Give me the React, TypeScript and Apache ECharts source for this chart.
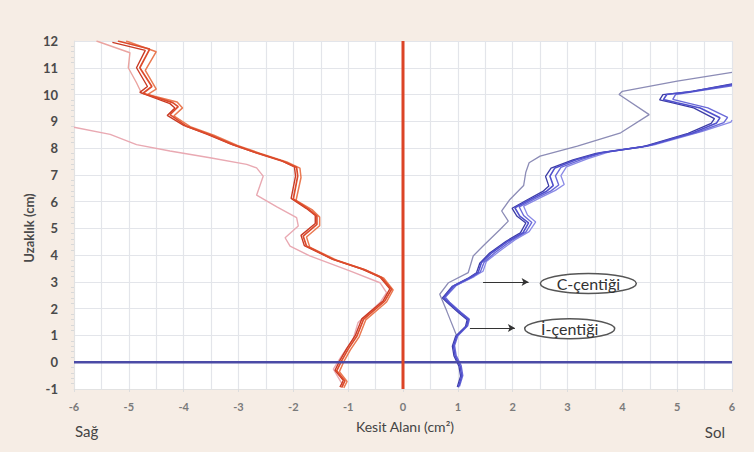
import React, { useEffect, useRef } from "react";
import * as echarts from "echarts";

// ---- axis ranges / tick labels ----
const xTicks = [-6, -5, -4, -3, -2, -1, 0, 1, 2, 3, 4, 5, 6];
const yTicks = [-1, 0, 1, 2, 3, 4, 5, 6, 7, 8, 9, 10, 11, 12];

// ---- right side (Sağ) red traces: [x, y] ----
const redA = [
  [-5.2, 12], [-4.62, 11.7], [-4.8, 11.0], [-4.58, 10.3], [-4.74, 10.05], [-4.2, 9.7], [-4.1, 9.55],
  [-4.25, 9.25], [-3.95, 8.82], [-3.52, 8.5], [-3.1, 8.13], [-2.67, 7.82], [-2.18, 7.5], [-1.94, 7.28],
  [-1.92, 6.95], [-2.0, 6.1], [-1.72, 5.72], [-1.57, 5.46], [-1.57, 5.15], [-1.82, 4.71], [-1.76, 4.34],
  [-1.27, 3.84], [-0.72, 3.47], [-0.39, 3.16], [-0.21, 2.72], [-0.33, 2.29], [-0.72, 1.6], [-0.84, 0.98],
  [-1.0, 0.49], [-1.12, 0.05], [-1.21, -0.32], [-1.06, -0.7], [-1.12, -0.95],
];
const redB = [
  [-5.05, 12], [-4.5, 11.6], [-4.7, 10.9], [-4.5, 10.2], [-4.66, 10.0], [-4.12, 9.72], [-4.02, 9.5],
  [-4.18, 9.2], [-3.88, 8.8], [-3.45, 8.48], [-3.02, 8.1], [-2.6, 7.8], [-2.12, 7.48], [-1.88, 7.25],
  [-1.86, 6.9], [-1.95, 6.05], [-1.66, 5.7], [-1.52, 5.42], [-1.52, 5.1], [-1.76, 4.68], [-1.7, 4.3],
  [-1.22, 3.82], [-0.68, 3.45], [-0.35, 3.14], [-0.18, 2.7], [-0.3, 2.25], [-0.68, 1.58], [-0.8, 0.95],
  [-0.96, 0.46], [-1.08, 0.02], [-1.16, -0.35], [-1.02, -0.72], [-1.08, -0.96],
];
const redC = [
  [-5.3, 11.95], [-4.7, 11.65], [-4.86, 11.0], [-4.66, 10.3], [-4.8, 10.08], [-4.25, 9.66], [-4.16, 9.5],
  [-4.3, 9.22], [-4.0, 8.85], [-3.58, 8.52], [-3.15, 8.16], [-2.72, 7.85], [-2.22, 7.53], [-1.98, 7.3],
  [-1.96, 6.95], [-2.04, 6.12], [-1.76, 5.74], [-1.6, 5.48], [-1.6, 5.18], [-1.86, 4.74], [-1.8, 4.36],
  [-1.3, 3.86], [-0.76, 3.49], [-0.42, 3.18], [-0.24, 2.74], [-0.36, 2.3], [-0.75, 1.62], [-0.87, 1.0],
  [-1.03, 0.5], [-1.15, 0.07], [-1.24, -0.3], [-1.09, -0.68], [-1.15, -0.93],
];
const redPaleTop = [
  [-5.59, 12], [-4.98, 11.56], [-5.01, 11.0], [-4.86, 10.44], [-4.77, 10.06], [-4.2, 9.7],
];
const redPale = [
  [-6.0, 8.78], [-5.34, 8.51], [-4.86, 8.13], [-4.25, 7.89], [-3.52, 7.64], [-2.85, 7.39], [-2.67, 7.26],
  [-2.55, 6.95], [-2.67, 6.24], [-2.3, 5.8], [-1.94, 5.4], [-1.91, 5.09], [-2.15, 4.65], [-2.06, 4.34],
  [-1.7, 3.97], [-0.97, 3.41], [-0.42, 2.97], [-0.3, 2.6], [-0.42, 2.23], [-0.82, 1.48], [-0.91, 0.86],
  [-1.12, 0.24], [-1.27, -0.26], [-1.09, -0.88],
];

// ---- left side (Sol) blue traces: [x, y] ----
const blueA = [
  [1.01, -0.94], [1.07, -0.51], [1.04, -0.14], [0.95, 0.24], [0.92, 0.61], [0.98, 0.98], [1.16, 1.35],
  [1.19, 1.6], [1.04, 1.85], [0.83, 2.23], [0.74, 2.41], [0.92, 2.85], [1.22, 3.16], [1.37, 3.35],
  [1.43, 3.72], [1.62, 4.09], [1.92, 4.53], [2.19, 4.84], [2.29, 5.21], [2.13, 5.46], [2.04, 5.77],
  [2.32, 6.08], [2.62, 6.39], [2.74, 6.6], [2.68, 6.95], [2.77, 7.26], [3.17, 7.57], [3.59, 7.82],
  [4.44, 8.07], [5.29, 8.57], [5.72, 8.94], [5.78, 9.13], [5.42, 9.5], [5.0, 9.69], [4.75, 9.81],
  [4.81, 10.0], [5.29, 10.12], [6.0, 10.37],
];
const blueB = [
  [1.03, -0.9], [1.09, -0.5], [1.06, -0.12], [0.97, 0.25], [0.94, 0.62], [1.0, 0.99], [1.18, 1.36],
  [1.21, 1.6], [1.06, 1.86], [0.85, 2.24], [0.77, 2.43], [0.96, 2.86], [1.26, 3.18], [1.41, 3.37],
  [1.48, 3.74], [1.68, 4.1], [1.98, 4.55], [2.24, 4.86], [2.35, 5.22], [2.2, 5.48], [2.12, 5.8],
  [2.4, 6.1], [2.7, 6.4], [2.84, 6.62], [2.78, 6.96], [2.88, 7.28], [3.26, 7.58], [3.66, 7.84],
  [4.5, 8.1], [5.38, 8.6], [5.85, 8.95], [5.92, 9.15], [5.56, 9.5], [5.2, 9.68], [4.92, 9.82],
  [4.97, 10.0], [5.4, 10.14], [6.0, 10.33],
];
const blueC = [
  [0.99, -0.92], [1.05, -0.52], [1.02, -0.15], [0.93, 0.23], [0.9, 0.6], [0.96, 0.97], [1.14, 1.34],
  [1.17, 1.59], [1.02, 1.84], [0.81, 2.22], [0.72, 2.4], [0.9, 2.84], [1.2, 3.15], [1.34, 3.34],
  [1.4, 3.7], [1.58, 4.08], [1.88, 4.52], [2.14, 4.83], [2.24, 5.2], [2.08, 5.45], [1.99, 5.75],
  [2.26, 6.06], [2.55, 6.38], [2.66, 6.58], [2.6, 6.94], [2.7, 7.25], [3.1, 7.56], [3.52, 7.8],
  [4.38, 8.05], [5.2, 8.55], [5.62, 8.92], [5.68, 9.1], [5.3, 9.5], [4.9, 9.7], [4.68, 9.8],
  [4.74, 10.0], [5.22, 10.1], [6.0, 10.4],
];
const blueD = [
  [1.16, 1.35], [1.2, 1.62], [1.05, 1.87], [0.84, 2.25], [0.76, 2.44], [0.98, 2.88], [1.3, 3.2],
  [1.46, 3.4], [1.52, 3.76], [1.74, 4.12], [2.04, 4.57], [2.3, 4.88], [2.42, 5.24], [2.27, 5.5],
  [2.2, 5.83], [2.48, 6.12], [2.78, 6.42], [2.94, 6.64], [2.88, 6.97], [2.98, 7.3], [3.36, 7.6],
  [3.76, 7.86], [4.58, 8.12], [5.46, 8.62], [5.98, 8.97], [6.0, 9.05],
];
const blueOuter = [
  [0.98, 0.98], [0.8, 1.9], [0.67, 2.54], [0.83, 2.97], [1.19, 3.35], [1.28, 3.97], [1.46, 4.34],
  [1.77, 4.96], [1.92, 5.27], [1.8, 5.65], [1.95, 6.08], [2.2, 6.6], [2.24, 7.1], [2.3, 7.45],
  [2.5, 7.7], [3.18, 8.07], [3.97, 8.57], [4.49, 9.25], [3.94, 10.0], [4.0, 10.12], [5.0, 10.5],
  [6.0, 10.83],
];

// ---- reference axes lines ----
const zeroHorizontal = [[-6, 0], [6, 0]];
const zeroVertical = [[0, -1], [0, 12]];

// ---- notch annotations ----
const notchLabels = ["C-çentiği", "İ-çentiği"];
const notchArrowFrom = [[1.46, 3.0], [1.22, 1.28]];
const notchArrowTo = [[2.29, 3.0], [2.04, 1.28]];
const notchLabelAt = [[3.38, 2.94], [3.04, 1.25]];

const FONT = "Lato, 'Open Sans', sans-serif";

export default function App() {
  const ref = useRef<HTMLDivElement>(null);
  useEffect(() => {
    if (!ref.current) return;
    const chart = echarts.init(ref.current, null, { renderer: "svg" });
    const line = (data: number[][], color: string, width: number, z = 3) => ({
      type: "line",
      data,
      showSymbol: false,
      symbol: "none",
      smooth: false,
      z,
      lineStyle: { color, width },
      silent: true,
    });
    chart.setOption({
      animation: false,
      backgroundColor: "#f6ede5",
      grid: {
        left: 74,
        right: 22,
        top: 41,
        bottom: 63,
        show: true,
        backgroundColor: "#ffffff",
        borderWidth: 0,
      },
      xAxis: {
        type: "value",
        min: -6,
        max: 6,
        interval: 1,
        axisLine: { show: true, onZero: false, lineStyle: { color: "#e2e2e2" } },
        axisTick: { show: true, length: 3, lineStyle: { color: "#dddddd" } },
        axisLabel: {
          margin: 12,
          color: "#7a7a7a",
          fontFamily: FONT,
          fontWeight: "bold",
          fontSize: 11,
          formatter: (v: number) => (xTicks.includes(v) ? String(v) : ""),
        },
        splitLine: { show: true, lineStyle: { color: "#e3e5ea", width: 1.2 } },
        minorTick: { show: false, splitNumber: 2 },
        minorSplitLine: { show: true, lineStyle: { color: "#e3e5ea", width: 1.2 } },
      },
      yAxis: {
        type: "value",
        min: -1,
        max: 12,
        interval: 1,
        axisLine: { show: true, onZero: false, lineStyle: { color: "#e2e2e2" } },
        axisTick: { show: false },
        minorTick: { show: true, splitNumber: 5, length: 3, lineStyle: { color: "#d8d8d8" } },
        axisLabel: {
          margin: 16,
          color: "#4a4a4a",
          fontFamily: FONT,
          fontWeight: "bold",
          fontSize: 13,
          formatter: (v: number) => (yTicks.includes(v) ? String(v) : ""),
        },
        splitLine: { show: true, lineStyle: { color: "#e3e5ea", width: 1.2 } },
      },
      series: [
        line(redPale, "#e9a9b2", 1.4),
        line(redPaleTop, "#eba4a0", 1.4),
        line(redB, "#ea7a52", 1.5),
        line(redC, "#c93b25", 1.4),
        line(redA, "#dc4b2c", 1.7),
        line(blueOuter, "#8c8cb6", 1.3),
        line(blueD, "#8a8ae6", 1.3),
        line(blueB, "#6a6ad8", 1.4),
        line(blueC, "#3c3ca6", 1.3),
        line(blueA, "#5050cc", 1.6),
        {
          ...line(zeroHorizontal, "#4b4ba6", 2.4, 5),
          markLine: {
            silent: true,
            symbol: ["none", "arrow"],
            symbolSize: [6, 7],
            label: { show: false },
            lineStyle: { color: "#333333", width: 1, type: "solid" },
            data: notchArrowFrom.map((p, i) => [{ coord: p }, { coord: notchArrowTo[i] }]),
          },
        },
        line(zeroVertical, "#dc4426", 3, 6),
      ],
    });

    const ellipses: any[] = [];
    const sizes = [
      [48, 10],
      [45, 10],
    ];
    notchLabelAt.forEach((p, i) => {
      const [cx, cy] = chart.convertToPixel({ gridIndex: 0 }, p) as number[];
      ellipses.push({
        type: "ellipse",
        shape: { cx, cy, rx: sizes[i][0], ry: sizes[i][1] },
        style: { fill: "#ffffff", stroke: "#555555", lineWidth: 1.5 },
        z: 10,
      });
      ellipses.push({
        type: "text",
        x: cx,
        y: cy,
        style: {
          text: notchLabels[i],
          fill: "#333333",
          font: `16px ${FONT}`,
          textAlign: "center",
          textVerticalAlign: "middle",
        },
        z: 11,
      });
    });

    chart.setOption({
      graphic: [
        ...ellipses,
        {
          type: "text",
          x: 29,
          y: 228,
          rotation: Math.PI / 2,
          style: {
            text: "Uzaklık (cm)",
            fill: "#4a4a4a",
            font: `bold 13px ${FONT}`,
            textAlign: "center",
            textVerticalAlign: "middle",
          },
        },
        {
          type: "text",
          x: 405,
          y: 426,
          style: {
            text: "Kesit Alanı (cm²)",
            fill: "#444444",
            font: `14px ${FONT}`,
            textAlign: "center",
            textVerticalAlign: "middle",
          },
        },
        {
          type: "text",
          x: 75,
          y: 431,
          style: {
            text: "Sağ",
            fill: "#444444",
            font: `15px ${FONT}`,
            textAlign: "left",
            textVerticalAlign: "middle",
          },
        },
        {
          type: "text",
          x: 725,
          y: 432,
          style: {
            text: "Sol",
            fill: "#444444",
            font: `15px ${FONT}`,
            textAlign: "right",
            textVerticalAlign: "middle",
          },
        },
      ],
    });
    return () => chart.dispose();
  }, []);

  return (
    <div style={{ position: "fixed", left: 0, top: 0, width: 754, height: 459, background: "#ffffff" }}>
      <div ref={ref} style={{ position: "absolute", left: 0, top: 0, width: 754, height: 452 }} />
    </div>
  );
}
